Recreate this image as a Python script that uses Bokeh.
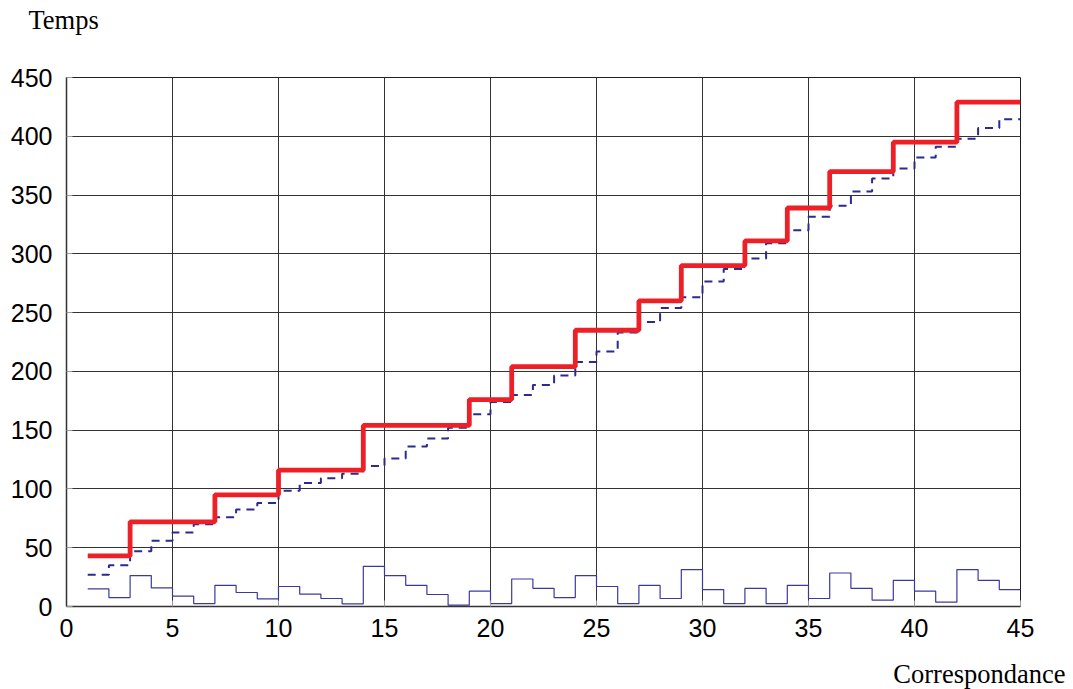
from bokeh.plotting import figure
from bokeh.models import FixedTicker, Range1d, Title
from bokeh.embed import file_html
from bokeh.resources import INLINE

# ---- data ----
steps_x = list(range(1, 46))  # 1..45
thin_values = [15, 7.6, 26.3, 15.8, 8.8, 2.5, 18, 11.9, 6.5, 17, 10.5, 6.8, 2.3, 34.2, 26.3,
               18, 10.2, 1.1, 13, 2.5, 23.4, 15.5, 7.6, 26.3, 17, 2.5, 18, 6.8, 31.4, 14.4,
               2.5, 15.5, 2.5, 18, 6.8, 28.5, 15.5, 5.4, 22.3, 13, 3.7, 31.4, 22.3, 14.4]
dashed_values = [27, 35, 47, 56, 63, 70, 76, 82.5, 88, 98.5, 105, 109, 113, 119.5, 126,
                 136, 143, 152, 163.5, 174, 180, 188.5, 196.5, 208, 217, 233, 242, 254, 263, 276.5,
                 287, 296, 309, 320, 331.5, 341, 353, 364, 372.5, 382, 391, 398, 407, 414.5]
red_x = [1, 3, 7, 10, 14, 19, 21, 24, 27, 29, 32, 34, 36, 39, 42, 45]
red_values = [43, 72, 95, 116, 154, 176, 204, 235, 260, 290, 311, 339, 370, 395, 429]
x_ticks = list(range(0, 46, 5))
y_ticks = list(range(0, 451, 50))
x_title = "Correspondance"
y_title = "Temps"

W, H = 1073, 689
p = figure(width=W, height=H, output_backend="svg", toolbar_location=None, title=None,
           x_range=Range1d(0, 45), y_range=Range1d(0, 450),
           min_border_left=66, min_border_top=77, min_border_right=W - 1020,
           min_border_bottom=H - 607)
p.background_fill_color = "white"
p.border_fill_color = "white"
p.outline_line_color = "#222222"
p.outline_line_width = 1

for ax, ticks in ((p.xaxis, x_ticks), (p.yaxis, y_ticks)):
    ax.ticker = FixedTicker(ticks=ticks)
    ax.major_label_text_font = "Liberation Sans"
    ax.major_label_text_font_size = "25px"
    ax.major_label_text_color = "black"
    ax.axis_line_color = "#333333"
    ax.axis_line_width = 1.5
    ax.major_tick_in = 6
    ax.major_tick_out = 0
    ax.major_tick_line_color = "#999999"
    ax.minor_tick_line_color = None
p.xaxis.major_label_standoff = 12
p.yaxis.major_label_standoff = 14

p.xgrid.ticker = FixedTicker(ticks=x_ticks)
p.ygrid.ticker = FixedTicker(ticks=y_ticks)
for g in (p.xgrid, p.ygrid):
    g.grid_line_color = "#333333"
    g.grid_line_width = 1
    g.grid_line_alpha = 1.0

# thin series
p.step(steps_x, thin_values + [thin_values[-1]], mode="after",
       line_color="#3a3a9e", line_width=1.2)
# dashed series
p.step(steps_x, dashed_values + [dashed_values[-1]], mode="after",
       line_color="#2a2a8f", line_width=2, line_dash="8 6")
# red series
p.step(red_x, red_values + [red_values[-1]], mode="after",
       line_color="#ee2027", line_width=4.8)

title_style = dict(text_font="Liberation Serif", text_font_size="26.5px",
                   text_font_style="normal", text_color="black")

# above: spacer next to frame, then the "Temps" label further out
p.add_layout(Title(text=" ", text_font_size="1px", standoff=38), "above")
p.add_layout(Title(text=y_title, align="left", offset=-38, standoff=4, **title_style), "above")

# below: axis, spacer, then "Correspondance"
p.add_layout(Title(text=" ", text_font_size="1px", standoff=13), "below")
p.add_layout(Title(text=x_title, align="right", offset=-45, standoff=2, **title_style), "below")

open("out.html", "w").write(file_html(p, INLINE))
